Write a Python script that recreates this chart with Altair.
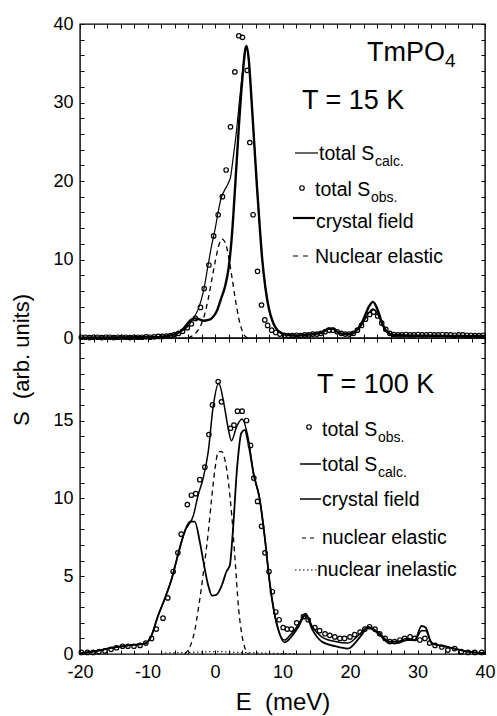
import altair as alt
import pandas as pd

FONT = "Liberation Sans"

# ---------------- axis ticks / labels ----------------
x_ticks = list(range(-20, 41, 2))
x_labels = [-20, -10, 0, 10, 20, 30, 40]
top_y_ticks = list(range(0, 41, 2))
top_y_labels = [0, 10, 20, 30, 40]
bot_y_ticks = list(range(0, 21, 1))
bot_y_labels = [0, 5, 10, 15]

# ---------------- T = 15 K (top panel) ----------------
top_obs_E = [-19.8, -19.2, -18.6, -18.0, -17.4, -16.8, -16.2, -15.6, -15.0, -14.4, -13.8, -13.2,
             -12.6, -12.0, -11.4, -10.8, -10.2, -9.6, -9.0, -8.4, -7.8, -7.2, -6.6, -6.0, -5.4,
             -4.8, -4.1, -3.5, -2.9, -2.15, -1.6, -0.9, -0.2, 0.47, 1.1, 1.65, 2.3, 2.94, 3.53,
             4.07, 4.77, 5.16, 5.65, 6.3, 6.89, 7.38, 7.8, 8.4, 9.0, 9.6, 10.3, 10.9, 11.5, 12.1,
             12.7, 13.3, 13.9, 14.5, 15.1, 15.7, 16.3, 16.9, 17.5, 18.1, 18.7, 19.3, 19.9, 20.5,
             21.1, 21.7, 22.3, 22.9, 23.5, 24.1, 24.7, 25.3, 25.9, 26.5, 27.1, 27.7, 28.3, 28.9,
             29.5, 30.1, 30.7, 31.3, 31.9, 32.5, 33.1, 33.7, 34.3, 34.9, 35.5, 36.1, 36.7, 37.3,
             37.9, 38.5, 39.1, 39.7]
top_obs_S = [0.1, 0.1, 0.05, 0.1, 0.1, 0.05, 0.1, 0.1, 0.05, 0.1, 0.1, 0.1,
             0.05, 0.1, 0.1, 0.1, 0.15, 0.1, 0.15, 0.2, 0.2, 0.25, 0.3, 0.45, 0.6,
             0.85, 1.3, 1.8, 2.5, 3.9, 6.3, 9.3, 13.0, 15.7, 18.0, 21.4, 26.9, 33.9, 38.5,
             38.3, 34.1, 24.9, 15.7, 8.5, 4.2, 2.3, 1.6, 1.0, 0.7, 0.5, 0.35, 0.3, 0.3, 0.35,
             0.3, 0.4, 0.4, 0.5, 0.5, 0.6, 0.8, 1.0, 1.0, 0.8, 0.6, 0.5, 0.5, 0.6,
             1.0, 1.6, 2.4, 3.0, 3.3, 2.8, 1.9, 1.1, 0.6, 0.45, 0.4, 0.4, 0.45, 0.4,
             0.4, 0.45, 0.4, 0.4, 0.45, 0.4, 0.4, 0.45, 0.4, 0.4, 0.35, 0.4, 0.4, 0.35,
             0.35, 0.3, 0.3, 0.35]

top_calc_E = [-20, -10, -8, -7, -6.4, -5.5, -5.0, -4.0, -3.2, -2.5, -1.75, -1.0, -0.5, 0.0, 0.5,
              0.9, 1.4, 1.9, 2.3, 2.7, 3.2, 3.6, 4.1, 4.6, 5.0, 5.4, 5.8, 6.2, 6.6, 7.0, 7.5,
              8.0, 8.5, 9.0, 9.5, 10.3, 11, 12, 13, 14, 15, 16, 16.8, 17.5, 18.2, 19, 20, 21,
              22, 22.8, 23.4, 24, 24.6, 25.2, 26, 27, 30, 33, 36, 40]
top_calc_S = [0.05, 0.1, 0.15, 0.25, 0.35, 0.65, 0.9, 1.5, 2.5, 3.65, 5.8, 9.4, 11.8, 13.8, 16.2,
              17.8, 18.8, 19.6, 20.5, 23.0, 26.5, 30.0, 34.0, 37.0, 35.5, 30.5, 25.0, 19.5, 14.5,
              10.0, 6.2, 3.7, 2.2, 1.3, 0.8, 0.45, 0.35, 0.3, 0.35, 0.45, 0.55, 0.75, 1.1, 1.1,
              0.75, 0.5, 0.5, 0.9, 2.0, 3.2, 3.7, 3.2, 2.0, 1.0, 0.5, 0.35, 0.3, 0.3, 0.25, 0.25]

top_cf_E = [-20, -10, -8, -7, -6.4, -5.5, -5.0, -4.3, -3.6, -3.0, -2.4, -1.7, -1.0, -0.5, 0.2,
            0.9, 1.5, 2.0, 2.5, 3.0, 3.5, 4.0, 4.5, 4.7, 5.0, 5.4, 5.8, 6.2, 6.6, 7.0, 7.5, 8.0,
            8.5, 9.0, 9.5, 10.3, 11, 12, 13, 14, 15, 16, 16.8, 17.5, 18.2, 19, 20, 21, 22, 22.8,
            23.4, 24, 24.6, 25.2, 26, 27, 30, 33, 36, 40]
top_cf_S = [0.05, 0.1, 0.15, 0.25, 0.35, 0.65, 0.9, 1.6, 2.3, 2.5, 2.4, 2.2, 2.3, 2.5, 3.3,
            5.0, 6.6, 8.8, 13.0, 19.5, 26.5, 32.5, 36.8, 37.2, 35.5, 30.5, 25.0, 19.5, 14.5, 10.0,
            6.2, 3.7, 2.2, 1.3, 0.8, 0.45, 0.35, 0.3, 0.35, 0.45, 0.55, 0.75, 1.2, 1.2, 0.75, 0.5,
            0.5, 1.0, 2.4, 4.0, 4.6, 3.8, 2.3, 1.1, 0.5, 0.35, 0.3, 0.3, 0.25, 0.25]

top_nuc_E = [-4.0, -3.5, -3.0, -2.5, -2.0, -1.5, -1.0, -0.5, 0.0, 0.5, 1.0, 1.5, 2.0, 2.5, 3.0,
             3.5, 4.0, 4.5, 5.0]
top_nuc_S = [0.0, 0.2, 0.5, 1.0, 1.8, 3.1, 5.0, 7.3, 9.6, 11.6, 12.6, 12.2, 10.4, 7.8, 5.0,
             2.6, 1.0, 0.2, 0.0]

# ---------------- T = 100 K (bottom panel) ----------------
bot_obs_E = [-19.8, -18.9, -18.05, -17.2, -16.3, -15.4, -14.6, -13.7, -12.9, -12.0, -11.1, -10.25,
             -9.4, -8.7, -7.7, -7.0, -6.2, -5.5, -5.0, -4.1, -3.5, -2.85, -2.25, -1.5, -0.9,
             -0.37, 0.47, 0.96, 2.3, 2.8, 3.33, 4.02, 4.67, 5.26, 5.75, 6.3, 6.9, 7.4, 8.0, 8.5,
             9.0, 9.5, 10.1, 10.7, 11.3, 12.1, 13.1, 13.8, 14.8, 15.5, 16.3, 17.0, 17.75, 18.5,
             19.2, 20.0, 20.7, 21.5, 22.2, 22.9, 23.7, 24.4, 25.2, 25.9, 26.6, 27.4, 28.1, 28.9,
             29.6, 30.35, 31.1, 31.8, 32.6, 33.6, 34.5, 35.5, 36.5, 37.5, 38.5, 39.5]
bot_obs_S = [0.1, 0.1, 0.1, 0.15, 0.2, 0.3, 0.4, 0.5, 0.5, 0.5, 0.55, 0.7,
             1.0, 1.6, 2.3, 3.6, 5.3, 6.5, 7.7, 9.6, 10.2, 10.3, 11.2, 12.0, 14.1,
             16.0, 17.5, 16.2, 14.5, 14.7, 15.6, 15.6, 15.0, 13.4, 11.3, 9.8, 8.2, 6.5, 5.3, 4.0,
             2.7, 2.2, 1.7, 1.6, 1.6, 2.0, 2.4, 2.2, 1.7, 1.5, 1.3, 1.2, 1.1, 1.0,
             1.0, 1.1, 1.25, 1.4, 1.6, 1.75, 1.6, 1.3, 1.0, 0.8, 0.8, 0.9, 1.0, 1.1,
             1.0, 0.9, 1.0, 0.7, 0.55, 0.45, 0.25, 0.35, 0.15, 0.1, 0.1, 0.1]

bot_calc_E = [-20, -17.5, -15.3, -12.9, -10.4, -9.6, -8.4, -7.4, -6.4, -5.5, -4.5, -3.2, -2.5,
              -1.75, -1.0, -0.3, 0.55, 1.35, 1.95, 2.44, 3.2, 4.0, 4.9, 5.75, 6.6, 7.4, 8.1, 8.6,
              9.35, 10.3, 11.1, 12.3, 13.4, 14.5, 15.8, 17.8, 19.7, 21.5, 22.7, 24.2, 25.9, 27.1,
              28.4, 29.6, 30.6, 31.2, 32.1, 34.5, 37.5, 40]
bot_calc_S = [0.05, 0.2, 0.4, 0.55, 0.67, 1.0, 2.5, 3.6, 4.85, 6.35, 7.85, 8.9, 10.2,
              11.3, 13.0, 15.8, 17.4, 16.0, 14.5, 13.7, 14.6, 15.1, 13.9, 11.5, 10.0, 7.4, 4.6, 3.1,
              1.6, 0.9, 1.2, 1.85, 2.6, 1.7, 1.1, 0.8, 0.7, 1.3, 1.75, 1.4, 0.8, 0.8,
              1.0, 0.9, 1.5, 1.5, 0.7, 0.45, 0.15, 0.05]

bot_cf_E = [-20, -17.5, -15.3, -12.9, -10.4, -9.6, -8.4, -7.4, -6.4, -5.5, -4.5, -3.7, -3.0,
            -2.25, -1.7, -1.0, -0.45, 0.2, 1.0, 1.7, 2.2, 2.6, 3.3, 3.9, 4.4, 4.9, 5.75, 6.6, 7.4,
            8.1, 8.6, 9.35, 10.3, 11.1, 12.3, 13.4, 14.5, 15.8, 17.8, 19.7, 21.5, 22.7, 24.2,
            25.9, 27.1, 28.4, 29.6, 30.6, 31.2, 32.1, 34.5, 37.5, 40]
bot_cf_S = [0.05, 0.2, 0.4, 0.55, 0.67, 1.0, 2.5, 3.6, 4.85, 6.35, 7.85, 8.5, 8.5,
            7.2, 5.9, 4.4, 3.75, 3.8, 4.4, 5.3, 5.7, 7.6, 12.1, 14.2, 14.4, 13.6, 11.5, 10.0, 7.4,
            4.6, 3.1, 1.6, 0.75, 1.0, 1.7, 2.5, 1.5, 0.8, 0.5, 0.35, 1.1, 1.7, 1.3,
            0.7, 0.7, 0.9, 0.9, 1.8, 1.7, 0.7, 0.45, 0.15, 0.05]

bot_nuc_E = [-4.5, -4.0, -3.5, -3.0, -2.5, -2.0, -1.5, -1.0, -0.5, 0.0, 0.5, 1.0, 1.5, 2.0,
             2.5, 3.0, 3.5, 4.0, 4.5, 5.0]
bot_nuc_S = [0.0, 0.25, 0.7, 1.5, 2.8, 4.3, 6.0, 7.8, 10.0, 11.9, 13.0, 13.0, 12.4, 11.0,
             8.8, 5.9, 2.9, 1.2, 0.3, 0.0]

bot_inel_E = [-8, -4, 0, 4, 8, 12]
bot_inel_S = [0.05, 0.1, 0.15, 0.1, 0.05, 0.02]

# ---------------- layout ----------------
PW, TOP_H, BOT_H = 405, 314, 316
xscale = alt.Scale(domain=[-20, 40], nice=False, zero=False)
top_yscale = alt.Scale(domain=[0, 40], nice=False, zero=False)
bot_yscale = alt.Scale(domain=[0, 20.3], nice=False, zero=False)


def frame(E, S):
    return pd.DataFrame({"E": E, "S": S})


def tick_axis(orient, values):
    return alt.Axis(orient=orient, values=values, labels=False, domain=False, grid=False,
                    ticks=True, tickSize=4, tickWidth=1, tickColor="black", title=None,
                    offset=-4)


def y_label_axis(values):
    return alt.Axis(orient="left", values=values, ticks=False, domain=False, grid=False,
                    labelPadding=7, title=None, labelExpr="'' + datum.value")


def line(df, yscale, width, dash=None, xaxis=None, yaxis=None):
    kw = dict(color="black", strokeWidth=width, interpolate="monotone")
    if dash:
        kw["strokeDash"] = dash
    return alt.Chart(df).mark_line(**kw).encode(
        x=alt.X("E:Q", scale=xscale, axis=xaxis),
        y=alt.Y("S:Q", scale=yscale, axis=yaxis),
    )


def points(df, yscale):
    return alt.Chart(df).mark_point(shape="circle", filled=False, size=20, strokeWidth=1.2,
                                    color="black", opacity=1).encode(
        x=alt.X("E:Q", scale=xscale, axis=None),
        y=alt.Y("S:Q", scale=yscale, axis=None),
    )


def ticks(df, yscale, yvals, xo, yo):
    return alt.Chart(df).mark_point(opacity=0).encode(
        x=alt.X("E:Q", scale=xscale, axis=tick_axis(xo, x_ticks)),
        y=alt.Y("S:Q", scale=yscale, axis=tick_axis(yo, yvals)),
    )


def txt(s, x, y, size, align="left", baseline="alphabetic", angle=0):
    return alt.Chart(pd.DataFrame({"t": [s]})).mark_text(
        align=align, baseline=baseline, fontSize=size, font=FONT, angle=angle, color="black"
    ).encode(x=alt.value(x), y=alt.value(y), text="t:N")


def hline(x1, x2, y, width, dash=None):
    kw = dict(color="black", strokeWidth=width)
    if dash:
        kw["strokeDash"] = dash
    return alt.Chart(pd.DataFrame({"a": [0]})).mark_rule(**kw).encode(
        x=alt.value(x1), x2=alt.value(x2), y=alt.value(y))


def dot(x, y):
    return alt.Chart(pd.DataFrame({"a": [0]})).mark_point(
        shape="circle", filled=False, size=20, strokeWidth=1.2, color="black", opacity=1
    ).encode(x=alt.value(x), y=alt.value(y))


LS = 19.5  # legend font size
SS = 14    # subscript font size
SUB = 56   # width of "total S"

# top panel
t_calc = frame(top_calc_E, top_calc_S)
top = alt.layer(
    line(t_calc, top_yscale, 1.2, yaxis=y_label_axis(top_y_labels)),
    ticks(t_calc, top_yscale, top_y_ticks, "bottom", "left"),
    ticks(t_calc, top_yscale, top_y_ticks, "top", "right"),
    line(frame(top_cf_E, top_cf_S), top_yscale, 2.4),
    line(frame(top_nuc_E, top_nuc_S), top_yscale, 1.3, dash=[5, 4]),
    points(frame(top_obs_E, top_obs_S), top_yscale),
    txt("TmPO", 287, 37, 27),
    txt("4", 365, 43, 19),
    txt("T = 15 K", 222, 85, 27),
    hline(215, 238, 129, 1.2),
    txt("total S", 239, 136, LS),
    txt("calc.", 239 + SUB, 142, SS),
    dot(222, 164),
    txt("total S", 235, 172, LS),
    txt("obs.", 235 + SUB, 178, SS),
    hline(213, 235, 194, 2.2),
    txt("crystal field", 236, 204, LS),
    hline(213, 232, 232, 1.2, [5, 5]),
    txt("Nuclear elastic", 235, 239, LS),
    txt("S\u00a0\u00a0(arb. units)", -58, 336, 22, align="center", baseline="middle", angle=270),
).resolve_axis(x="independent", y="independent").properties(width=PW, height=TOP_H)

# bottom panel
b_calc = frame(bot_calc_E, bot_calc_S)
x_label_axis = alt.Axis(orient="bottom", values=x_labels, ticks=False, domain=False, grid=False,
                        labelPadding=9, labelFlush=False, labelExpr="'' + datum.value",
                        title="E\u00a0\u00a0(meV)", titlePadding=9)
bottom = alt.layer(
    line(b_calc, bot_yscale, 1.5, xaxis=x_label_axis, yaxis=y_label_axis(bot_y_labels)),
    ticks(b_calc, bot_yscale, bot_y_ticks, "bottom", "left"),
    ticks(b_calc, bot_yscale, bot_y_ticks, "top", "right"),
    line(frame(bot_cf_E, bot_cf_S), bot_yscale, 1.8),
    line(frame(bot_nuc_E, bot_nuc_S), bot_yscale, 1.3, dash=[5, 4]),
    line(frame(bot_inel_E, bot_inel_S), bot_yscale, 1.0, dash=[1.5, 2.5]),
    points(frame(bot_obs_E, bot_obs_S), bot_yscale),
    txt("T = 100 K", 237, 55, 27),
    dot(229, 89),
    txt("total S", 242, 98, LS),
    txt("obs.", 242 + SUB, 104, SS),
    hline(220, 241, 126, 1.5),
    txt("total S", 242, 133, LS),
    txt("calc.", 242 + SUB, 139, SS),
    hline(220, 241, 161, 1.5),
    txt("crystal field", 242, 168, LS),
    hline(222, 238, 200, 1.2, [4, 4]),
    txt("nuclear elastic", 242, 206, LS),
    hline(215, 237, 232, 1.0, [1.5, 2.5]),
    txt("nuclear inelastic", 237, 238, LS),
).resolve_axis(x="independent", y="independent").properties(width=PW, height=BOT_H)

chart = alt.vconcat(top, bottom, spacing=0, bounds="flush").properties(
    padding={"left": 10, "top": 14, "right": 0, "bottom": 0},
    background="white",
).configure_view(
    stroke="black", strokeWidth=1.4
).configure_axis(
    labelFont=FONT, labelFontSize=18, labelColor="black",
    titleFont=FONT, titleFontSize=24, titleColor="black", titleFontWeight="normal",
)

chart.save("out.html", embed_options={"renderer": "svg", "actions": False})
